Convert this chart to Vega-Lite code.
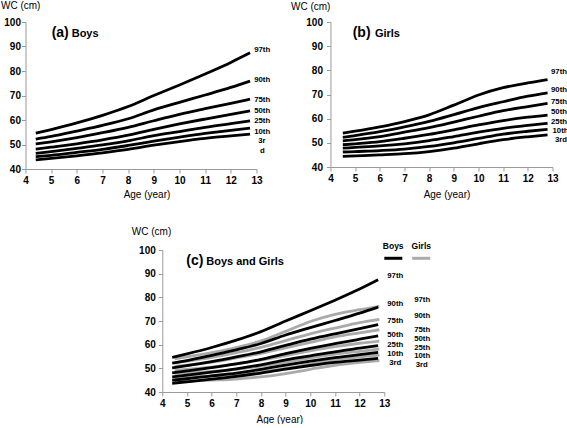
{
  "$schema": "https://vega.github.io/schema/vega-lite/v6.json",
  "padding": 0,
  "background": "#ffffff",
  "config": {
    "font": "Liberation Sans",
    "view": {"stroke": null},
    "axis": {
      "grid": false,
      "domainColor": "#9a9a9a",
      "tickColor": "#9a9a9a",
      "tickSize": 4,
      "labelFont": "Liberation Sans",
      "labelFontSize": 10,
      "labelFontWeight": "bold",
      "labelColor": "#000000",
      "labelFlush": false,
      "titleFont": "Liberation Sans",
      "titleFontSize": 10,
      "titleFontWeight": "normal",
      "titleColor": "#000000"
    }
  },
  "datasets": {
    "curves": [
      {"sex": "Boys", "pct": "97th", "age": 4.4, "wc": 54.6}, {"sex": "Boys", "pct": "97th", "age": 5, "wc": 56.1}, {"sex": "Boys", "pct": "97th", "age": 6, "wc": 58.8}, {"sex": "Boys", "pct": "97th", "age": 7, "wc": 61.9}, {"sex": "Boys", "pct": "97th", "age": 8, "wc": 65.5}, {"sex": "Boys", "pct": "97th", "age": 9, "wc": 70.0}, {"sex": "Boys", "pct": "97th", "age": 10, "wc": 74.3}, {"sex": "Boys", "pct": "97th", "age": 11, "wc": 78.8}, {"sex": "Boys", "pct": "97th", "age": 12, "wc": 83.5}, {"sex": "Boys", "pct": "97th", "age": 12.75, "wc": 87.4},
      {"sex": "Boys", "pct": "90th", "age": 4.4, "wc": 52.2}, {"sex": "Boys", "pct": "90th", "age": 5, "wc": 53.3}, {"sex": "Boys", "pct": "90th", "age": 6, "wc": 55.5}, {"sex": "Boys", "pct": "90th", "age": 7, "wc": 57.8}, {"sex": "Boys", "pct": "90th", "age": 8, "wc": 60.5}, {"sex": "Boys", "pct": "90th", "age": 9, "wc": 64.1}, {"sex": "Boys", "pct": "90th", "age": 10, "wc": 67.2}, {"sex": "Boys", "pct": "90th", "age": 11, "wc": 70.2}, {"sex": "Boys", "pct": "90th", "age": 12, "wc": 73.3}, {"sex": "Boys", "pct": "90th", "age": 12.75, "wc": 75.9},
      {"sex": "Boys", "pct": "75th", "age": 4.4, "wc": 50.2}, {"sex": "Boys", "pct": "75th", "age": 5, "wc": 51.1}, {"sex": "Boys", "pct": "75th", "age": 6, "wc": 52.8}, {"sex": "Boys", "pct": "75th", "age": 7, "wc": 54.8}, {"sex": "Boys", "pct": "75th", "age": 8, "wc": 57.0}, {"sex": "Boys", "pct": "75th", "age": 9, "wc": 59.7}, {"sex": "Boys", "pct": "75th", "age": 10, "wc": 62.3}, {"sex": "Boys", "pct": "75th", "age": 11, "wc": 64.6}, {"sex": "Boys", "pct": "75th", "age": 12, "wc": 66.8}, {"sex": "Boys", "pct": "75th", "age": 12.75, "wc": 68.5},
      {"sex": "Boys", "pct": "50th", "age": 4.4, "wc": 48.1}, {"sex": "Boys", "pct": "50th", "age": 5, "wc": 48.9}, {"sex": "Boys", "pct": "50th", "age": 6, "wc": 50.3}, {"sex": "Boys", "pct": "50th", "age": 7, "wc": 51.9}, {"sex": "Boys", "pct": "50th", "age": 8, "wc": 53.8}, {"sex": "Boys", "pct": "50th", "age": 9, "wc": 56.2}, {"sex": "Boys", "pct": "50th", "age": 10, "wc": 58.4}, {"sex": "Boys", "pct": "50th", "age": 11, "wc": 60.4}, {"sex": "Boys", "pct": "50th", "age": 12, "wc": 62.3}, {"sex": "Boys", "pct": "50th", "age": 12.75, "wc": 63.7},
      {"sex": "Boys", "pct": "25th", "age": 4.4, "wc": 46.4}, {"sex": "Boys", "pct": "25th", "age": 5, "wc": 47.1}, {"sex": "Boys", "pct": "25th", "age": 6, "wc": 48.4}, {"sex": "Boys", "pct": "25th", "age": 7, "wc": 49.8}, {"sex": "Boys", "pct": "25th", "age": 8, "wc": 51.5}, {"sex": "Boys", "pct": "25th", "age": 9, "wc": 53.6}, {"sex": "Boys", "pct": "25th", "age": 10, "wc": 55.3}, {"sex": "Boys", "pct": "25th", "age": 11, "wc": 57.0}, {"sex": "Boys", "pct": "25th", "age": 12, "wc": 58.5}, {"sex": "Boys", "pct": "25th", "age": 12.75, "wc": 59.6},
      {"sex": "Boys", "pct": "10th", "age": 4.4, "wc": 45.0}, {"sex": "Boys", "pct": "10th", "age": 5, "wc": 45.6}, {"sex": "Boys", "pct": "10th", "age": 6, "wc": 46.8}, {"sex": "Boys", "pct": "10th", "age": 7, "wc": 48.0}, {"sex": "Boys", "pct": "10th", "age": 8, "wc": 49.6}, {"sex": "Boys", "pct": "10th", "age": 9, "wc": 51.4}, {"sex": "Boys", "pct": "10th", "age": 10, "wc": 53.0}, {"sex": "Boys", "pct": "10th", "age": 11, "wc": 54.5}, {"sex": "Boys", "pct": "10th", "age": 12, "wc": 55.8}, {"sex": "Boys", "pct": "10th", "age": 12.75, "wc": 56.7},
      {"sex": "Boys", "pct": "3rd", "age": 4.4, "wc": 43.7}, {"sex": "Boys", "pct": "3rd", "age": 5, "wc": 44.3}, {"sex": "Boys", "pct": "3rd", "age": 6, "wc": 45.4}, {"sex": "Boys", "pct": "3rd", "age": 7, "wc": 46.6}, {"sex": "Boys", "pct": "3rd", "age": 8, "wc": 48.0}, {"sex": "Boys", "pct": "3rd", "age": 9, "wc": 49.7}, {"sex": "Boys", "pct": "3rd", "age": 10, "wc": 51.2}, {"sex": "Boys", "pct": "3rd", "age": 11, "wc": 52.5}, {"sex": "Boys", "pct": "3rd", "age": 12, "wc": 53.5}, {"sex": "Boys", "pct": "3rd", "age": 12.75, "wc": 54.2},
      {"sex": "Girls", "pct": "97th", "age": 4.5, "wc": 54.0}, {"sex": "Girls", "pct": "97th", "age": 5, "wc": 54.8}, {"sex": "Girls", "pct": "97th", "age": 6, "wc": 56.6}, {"sex": "Girls", "pct": "97th", "age": 7, "wc": 58.8}, {"sex": "Girls", "pct": "97th", "age": 8, "wc": 61.6}, {"sex": "Girls", "pct": "97th", "age": 9, "wc": 65.6}, {"sex": "Girls", "pct": "97th", "age": 10, "wc": 69.8}, {"sex": "Girls", "pct": "97th", "age": 11, "wc": 72.8}, {"sex": "Girls", "pct": "97th", "age": 12, "wc": 74.8}, {"sex": "Girls", "pct": "97th", "age": 12.8, "wc": 76.2},
      {"sex": "Girls", "pct": "90th", "age": 4.5, "wc": 52.3}, {"sex": "Girls", "pct": "90th", "age": 5, "wc": 53.0}, {"sex": "Girls", "pct": "90th", "age": 6, "wc": 54.6}, {"sex": "Girls", "pct": "90th", "age": 7, "wc": 56.6}, {"sex": "Girls", "pct": "90th", "age": 8, "wc": 58.9}, {"sex": "Girls", "pct": "90th", "age": 9, "wc": 61.7}, {"sex": "Girls", "pct": "90th", "age": 10, "wc": 64.6}, {"sex": "Girls", "pct": "90th", "age": 11, "wc": 67.0}, {"sex": "Girls", "pct": "90th", "age": 12, "wc": 69.3}, {"sex": "Girls", "pct": "90th", "age": 12.8, "wc": 70.7},
      {"sex": "Girls", "pct": "75th", "age": 4.5, "wc": 50.8}, {"sex": "Girls", "pct": "75th", "age": 5, "wc": 51.3}, {"sex": "Girls", "pct": "75th", "age": 6, "wc": 52.6}, {"sex": "Girls", "pct": "75th", "age": 7, "wc": 54.4}, {"sex": "Girls", "pct": "75th", "age": 8, "wc": 56.3}, {"sex": "Girls", "pct": "75th", "age": 9, "wc": 58.6}, {"sex": "Girls", "pct": "75th", "age": 10, "wc": 61.0}, {"sex": "Girls", "pct": "75th", "age": 11, "wc": 63.3}, {"sex": "Girls", "pct": "75th", "age": 12, "wc": 65.0}, {"sex": "Girls", "pct": "75th", "age": 12.8, "wc": 66.3},
      {"sex": "Girls", "pct": "50th", "age": 4.5, "wc": 49.2}, {"sex": "Girls", "pct": "50th", "age": 5, "wc": 49.6}, {"sex": "Girls", "pct": "50th", "age": 6, "wc": 50.5}, {"sex": "Girls", "pct": "50th", "age": 7, "wc": 51.9}, {"sex": "Girls", "pct": "50th", "age": 8, "wc": 53.5}, {"sex": "Girls", "pct": "50th", "age": 9, "wc": 55.4}, {"sex": "Girls", "pct": "50th", "age": 10, "wc": 57.4}, {"sex": "Girls", "pct": "50th", "age": 11, "wc": 59.2}, {"sex": "Girls", "pct": "50th", "age": 12, "wc": 60.6}, {"sex": "Girls", "pct": "50th", "age": 12.8, "wc": 61.5},
      {"sex": "Girls", "pct": "25th", "age": 4.5, "wc": 47.8}, {"sex": "Girls", "pct": "25th", "age": 5, "wc": 48.1}, {"sex": "Girls", "pct": "25th", "age": 6, "wc": 48.7}, {"sex": "Girls", "pct": "25th", "age": 7, "wc": 49.6}, {"sex": "Girls", "pct": "25th", "age": 8, "wc": 50.9}, {"sex": "Girls", "pct": "25th", "age": 9, "wc": 52.6}, {"sex": "Girls", "pct": "25th", "age": 10, "wc": 54.4}, {"sex": "Girls", "pct": "25th", "age": 11, "wc": 56.0}, {"sex": "Girls", "pct": "25th", "age": 12, "wc": 57.2}, {"sex": "Girls", "pct": "25th", "age": 12.8, "wc": 58.1},
      {"sex": "Girls", "pct": "10th", "age": 4.5, "wc": 46.2}, {"sex": "Girls", "pct": "10th", "age": 5, "wc": 46.4}, {"sex": "Girls", "pct": "10th", "age": 6, "wc": 46.8}, {"sex": "Girls", "pct": "10th", "age": 7, "wc": 47.4}, {"sex": "Girls", "pct": "10th", "age": 8, "wc": 48.5}, {"sex": "Girls", "pct": "10th", "age": 9, "wc": 50.0}, {"sex": "Girls", "pct": "10th", "age": 10, "wc": 51.8}, {"sex": "Girls", "pct": "10th", "age": 11, "wc": 53.6}, {"sex": "Girls", "pct": "10th", "age": 12, "wc": 54.8}, {"sex": "Girls", "pct": "10th", "age": 12.8, "wc": 55.6},
      {"sex": "Girls", "pct": "3rd", "age": 4.5, "wc": 44.4}, {"sex": "Girls", "pct": "3rd", "age": 5, "wc": 44.6}, {"sex": "Girls", "pct": "3rd", "age": 6, "wc": 45.0}, {"sex": "Girls", "pct": "3rd", "age": 7, "wc": 45.5}, {"sex": "Girls", "pct": "3rd", "age": 8, "wc": 46.4}, {"sex": "Girls", "pct": "3rd", "age": 9, "wc": 47.8}, {"sex": "Girls", "pct": "3rd", "age": 10, "wc": 49.6}, {"sex": "Girls", "pct": "3rd", "age": 11, "wc": 51.3}, {"sex": "Girls", "pct": "3rd", "age": 12, "wc": 52.5}, {"sex": "Girls", "pct": "3rd", "age": 12.8, "wc": 53.3}
    ],
    "labels": [
      {"panel": "a", "label": "97th", "age": 12.91, "wc": 88.5}, {"panel": "a", "label": "90th", "age": 12.91, "wc": 76.2}, {"panel": "a", "label": "75th", "age": 12.91, "wc": 68.0}, {"panel": "a", "label": "50th", "age": 12.91, "wc": 63.7}, {"panel": "a", "label": "25th", "age": 12.91, "wc": 59.4}, {"panel": "a", "label": "10th", "age": 12.91, "wc": 54.9}, {"panel": "a", "label": "3r", "age": 13.07, "wc": 51.3}, {"panel": "a", "label": "d", "age": 13.14, "wc": 47.4},
      {"panel": "b", "label": "97th", "age": 12.94, "wc": 79.3}, {"panel": "b", "label": "90th", "age": 12.94, "wc": 71.8}, {"panel": "b", "label": "75th", "age": 12.94, "wc": 67.0}, {"panel": "b", "label": "50th", "age": 12.94, "wc": 62.6}, {"panel": "b", "label": "25th", "age": 12.94, "wc": 58.8}, {"panel": "b", "label": "10th", "age": 13.0, "wc": 55.1}, {"panel": "b", "label": "3rd", "age": 13.1, "wc": 51.2},
      {"panel": "c", "label": "97th", "age": 13.12, "wc": 89.0}, {"panel": "c", "label": "90th", "age": 13.12, "wc": 77.0}, {"panel": "c", "label": "75th", "age": 13.12, "wc": 70.0}, {"panel": "c", "label": "50th", "age": 13.12, "wc": 64.0}, {"panel": "c", "label": "25th", "age": 13.12, "wc": 59.7}, {"panel": "c", "label": "10th", "age": 13.12, "wc": 55.9}, {"panel": "c", "label": "3rd", "age": 13.2, "wc": 52.2},
      {"panel": "c", "label": "97th", "age": 14.21, "wc": 78.8}, {"panel": "c", "label": "90th", "age": 14.21, "wc": 72.0}, {"panel": "c", "label": "75th", "age": 14.21, "wc": 66.1}, {"panel": "c", "label": "50th", "age": 14.21, "wc": 62.6}, {"panel": "c", "label": "25th", "age": 14.21, "wc": 58.8}, {"panel": "c", "label": "10th", "age": 14.21, "wc": 55.1}, {"panel": "c", "label": "3rd", "age": 14.27, "wc": 51.6}
    ],
    "titles": [
      {"panel": "a", "part": "tag", "text": "(a)", "age": 5.02, "wc": 94.0}, {"panel": "a", "part": "name", "text": "Boys", "age": 5.8, "wc": 94.0},
      {"panel": "b", "part": "tag", "text": "(b)", "age": 4.9, "wc": 93.7}, {"panel": "b", "part": "name", "text": "Girls", "age": 5.8, "wc": 93.7},
      {"panel": "c", "part": "tag", "text": "(c)", "age": 4.97, "wc": 93.6}, {"panel": "c", "part": "name", "text": "Boys and Girls", "age": 5.78, "wc": 93.6}
    ],
    "legendLines": [
      {"sex": "Boys", "age": 13.0, "age2": 13.73, "wc": 96.5},
      {"sex": "Girls", "age": 14.13, "age2": 14.86, "wc": 96.5}
    ],
    "legendText": [
      {"sex": "Boys", "age": 13.36, "wc": 100.3},
      {"sex": "Girls", "age": 14.5, "wc": 100.3}
    ]
  },
  "vconcat": [
    {
      "hconcat": [
        {
          "width": 231,
          "height": 147,
          "encoding": {
            "x": {"field": "age", "type": "quantitative", "scale": {"domain": [4, 13], "nice": false},
              "axis": {"values": [4, 5, 6, 7, 8, 9, 10, 11, 12, 13], "labelFlush": false, "title": "Age (year)", "labelPadding": 2, "titleX": 121, "titleY": 28, "titleBaseline": "alphabetic"}},
            "y": {"field": "wc", "type": "quantitative", "scale": {"domain": [40, 100], "nice": false},
              "axis": {"values": [40, 50, 60, 70, 80, 90, 100], "title": "WC (cm)", "labelPadding": 1, "titleAngle": 0, "titleAlign": "left", "titleBaseline": "alphabetic", "titleX": -25, "titleY": -14}}
          },
          "layer": [
            {
              "data": {"name": "curves"},
              "transform": [{"filter": "datum.sex === 'Boys'"}],
              "mark": {"type": "line", "interpolate": "monotone", "strokeWidth": 2.8, "color": "#000000"},
              "encoding": {"detail": {"field": "pct"}}
            },
            {
              "data": {"name": "labels"},
              "transform": [{"filter": "datum.panel === 'a'"}],
              "mark": {"type": "text", "align": "left", "baseline": "middle", "fontSize": 7.8, "fontWeight": "bold", "color": "#000000"},
              "encoding": {"text": {"field": "label"}}
            },
            {
              "data": {"name": "titles"},
              "transform": [{"filter": "datum.panel === 'a' && datum.part === 'tag'"}],
              "mark": {"type": "text", "align": "left", "baseline": "alphabetic", "fontSize": 14, "fontWeight": "bold", "color": "#000000"},
              "encoding": {"text": {"field": "text"}}
            },
            {
              "data": {"name": "titles"},
              "transform": [{"filter": "datum.panel === 'a' && datum.part === 'name'"}],
              "mark": {"type": "text", "align": "left", "baseline": "alphabetic", "fontSize": 11, "fontWeight": "bold", "color": "#000000"},
              "encoding": {"text": {"field": "text"}}
            }
          ]
        },
        {
          "width": 222,
          "height": 145,
          "encoding": {
            "x": {"field": "age", "type": "quantitative", "scale": {"domain": [4, 13], "nice": false},
              "axis": {"values": [4, 5, 6, 7, 8, 9, 10, 11, 12, 13], "labelFlush": false, "title": "Age (year)", "labelPadding": 2, "titleX": 116, "titleY": 30, "titleBaseline": "alphabetic"}},
            "y": {"field": "wc", "type": "quantitative", "scale": {"domain": [40, 100], "nice": false},
              "axis": {"values": [40, 50, 60, 70, 80, 90, 100], "title": "WC (cm)", "labelPadding": 4, "titleAngle": 0, "titleAlign": "left", "titleBaseline": "alphabetic", "titleX": -40, "titleY": -13}}
          },
          "layer": [
            {
              "data": {"name": "curves"},
              "transform": [{"filter": "datum.sex === 'Girls'"}],
              "mark": {"type": "line", "interpolate": "monotone", "strokeWidth": 2.8, "color": "#000000"},
              "encoding": {"detail": {"field": "pct"}}
            },
            {
              "data": {"name": "labels"},
              "transform": [{"filter": "datum.panel === 'b'"}],
              "mark": {"type": "text", "align": "left", "baseline": "middle", "fontSize": 7.8, "fontWeight": "bold", "color": "#000000"},
              "encoding": {"text": {"field": "label"}}
            },
            {
              "data": {"name": "titles"},
              "transform": [{"filter": "datum.panel === 'b' && datum.part === 'tag'"}],
              "mark": {"type": "text", "align": "left", "baseline": "alphabetic", "fontSize": 14, "fontWeight": "bold", "color": "#000000"},
              "encoding": {"text": {"field": "text"}}
            },
            {
              "data": {"name": "titles"},
              "transform": [{"filter": "datum.panel === 'b' && datum.part === 'name'"}],
              "mark": {"type": "text", "align": "left", "baseline": "alphabetic", "fontSize": 11, "fontWeight": "bold", "color": "#000000"},
              "encoding": {"text": {"field": "text"}}
            }
          ]
        }
      ],
      "spacing": 20
    },
    {
      "width": 222,
      "height": 142,
      "encoding": {
        "x": {"field": "age", "type": "quantitative", "scale": {"domain": [4, 13], "nice": false},
          "axis": {"values": [4, 5, 6, 7, 8, 9, 10, 11, 12, 13], "labelFlush": false, "title": "Age  (year)", "labelPadding": 2, "titleX": 117, "titleY": 30, "titleBaseline": "alphabetic"}},
        "y": {"field": "wc", "type": "quantitative", "scale": {"domain": [40, 100], "nice": false},
          "axis": {"values": [40, 50, 60, 70, 80, 90, 100], "title": "WC (cm)", "labelPadding": 3, "titleAngle": 0, "titleAlign": "left", "titleBaseline": "alphabetic", "titleX": -31, "titleY": -16}}
      },
      "layer": [
        {
          "data": {"name": "curves"},
          "transform": [{"filter": "datum.sex === 'Girls'"}],
          "mark": {"type": "line", "interpolate": "monotone", "strokeWidth": 2.8, "color": "#aaaaaa"},
          "encoding": {"detail": {"field": "pct"}}
        },
        {
          "data": {"name": "curves"},
          "transform": [{"filter": "datum.sex === 'Boys'"}],
          "mark": {"type": "line", "interpolate": "monotone", "strokeWidth": 2.8, "color": "#000000"},
          "encoding": {"detail": {"field": "pct"}}
        },
        {
          "data": {"name": "labels"},
          "transform": [{"filter": "datum.panel === 'c'"}],
          "mark": {"type": "text", "align": "left", "baseline": "middle", "fontSize": 7.8, "fontWeight": "bold", "color": "#000000"},
          "encoding": {"text": {"field": "label"}}
        },
        {
          "data": {"name": "titles"},
          "transform": [{"filter": "datum.panel === 'c' && datum.part === 'tag'"}],
          "mark": {"type": "text", "align": "left", "baseline": "alphabetic", "fontSize": 14, "fontWeight": "bold", "color": "#000000"},
          "encoding": {"text": {"field": "text"}}
        },
        {
          "data": {"name": "titles"},
          "transform": [{"filter": "datum.panel === 'c' && datum.part === 'name'"}],
          "mark": {"type": "text", "align": "left", "baseline": "alphabetic", "fontSize": 11, "fontWeight": "bold", "color": "#000000"},
          "encoding": {"text": {"field": "text"}}
        },
        {
          "data": {"name": "legendLines"},
          "mark": {"type": "rule", "strokeWidth": 3},
          "encoding": {
            "x2": {"field": "age2"},
            "color": {"field": "sex", "type": "nominal", "scale": {"domain": ["Boys", "Girls"], "range": ["#000000", "#aaaaaa"]}, "legend": null}
          }
        },
        {
          "data": {"name": "legendText"},
          "mark": {"type": "text", "align": "center", "baseline": "alphabetic", "fontSize": 8.5, "fontWeight": "bold", "color": "#000000"},
          "encoding": {"text": {"field": "sex"}}
        }
      ]
    }
  ],
  "spacing": 27,
  "center": true
}
